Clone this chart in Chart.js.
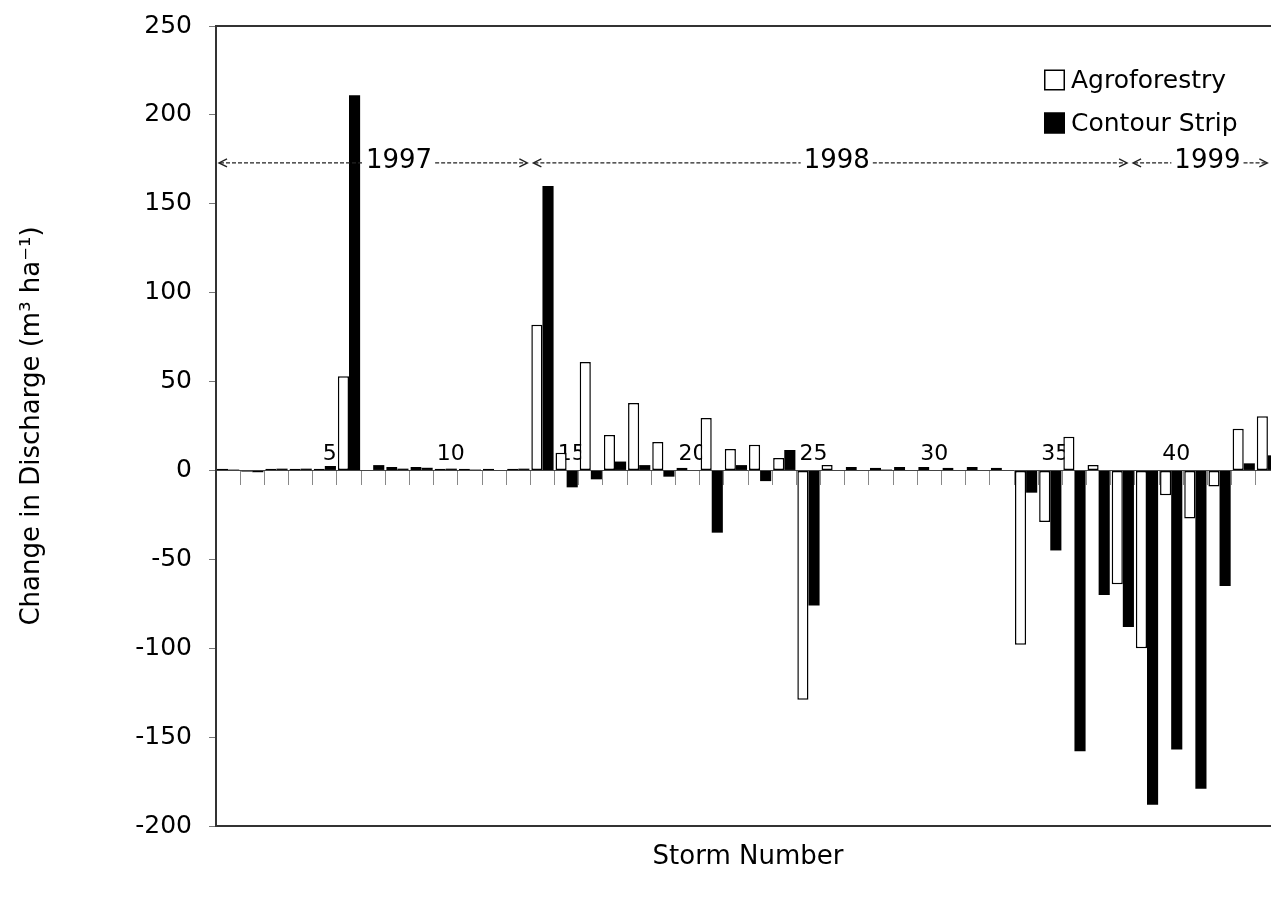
<!DOCTYPE html>
<html>
<head>
<meta charset="utf-8">
<title>Change in Discharge by Storm</title>
<script src="https://cdn.jsdelivr.net/npm/chart.js@4.4.0/dist/chart.umd.min.js"></script>
<style>
  html, body { margin: 0; padding: 0; background: #fff; overflow: hidden; }
  #wrap { width: 1300px; height: 900px; position: relative; }
</style>
</head>
<body>
<div id="wrap"><canvas id="chart" width="1300" height="900"></canvas></div>
<script>
// Storm numbers along the category axis
const storms = [1, 2, 3, 4, 5, 6, 7, 8, 9, 10, 11, 12, 13, 14, 15, 16, 17, 18, 19, 20, 21, 22,
                23, 24, 25, 26, 27, 28, 29, 30, 31, 32, 33, 34, 35, 36, 37, 38, 39, 40, 41, 42, 43, 44];

// Change in discharge (m3/ha) per storm
const agroforestry = [1, -0.8, 1, 1, 1, 53, 0, 2, 2, 1, 1, 1, 1, 82, 10, 61, 20, 38, 16, 1.5, 29.5, 12,
                      14.5, 7, -129, 3, 2, 1.5, 2, 2, 1.5, 2, 1.5, -98, -29, 19, 3, -64, -100, -14, -27, -9, 23.5, 30.5];
const contourStrip = [0.5, -1, 1, 1, 2.5, 211, 3, 1, 1.5, 1, 0.5, 0, 1, 160, -9.5, -5, 5, 3, -3.5, 0, -35, 3,
                      -6, 11.5, -76, 0, 0, 0.5, 0, 0, 0, 0, 0, -12.5, -45, -158, -70, -88, -188, -157, -179, -65, 4, 8.5];

// Value axis tick labels
const yTickValues = [-200, -150, -100, -50, 0, 50, 100, 150, 200, 250];

// Year spans along the storm axis (storm units; k = centre of storm k)
const years = ['1997', '1998', '1999'];
const yearStart = [0.5, 13.5, 38.3];
const yearEnd = [13.5, 38.3, 44.1];
const yearLabelAt = [8.07, 26.17, 41.5];

const FONT = 'DejaVu Sans';
Chart.defaults.font.family = FONT;
Chart.defaults.color = '#000';

function stormPixel(scale, u) {
  // fractional storm position -> pixel, through the category scale
  return scale.getPixelForValue(u - 1);
}

// Frame of the plot area (top and bottom edges)
const plotFrame = {
  id: 'plotFrame',
  beforeDatasetsDraw(chart) {
    const { ctx, chartArea: a } = chart;
    ctx.save();
    ctx.strokeStyle = '#333';
    ctx.lineWidth = 2;
    ctx.strokeRect(a.left, a.top, a.right - a.left, a.bottom - a.top);
    ctx.restore();
  }
};

// Dashed year spans with arrow heads
const yearSpans = {
  id: 'yearSpans',
  afterDatasetsDraw(chart) {
    const { ctx } = chart;
    const xs = chart.scales.x;
    const y = chart.scales.y.getPixelForValue(173);
    ctx.save();
    ctx.font = `26px "${FONT}"`;
    ctx.textBaseline = 'middle';
    ctx.textAlign = 'center';
    ctx.strokeStyle = '#222';
    ctx.fillStyle = '#000';
    years.forEach((label, i) => {
      const x0 = stormPixel(xs, yearStart[i]) + 3;
      const x1 = stormPixel(xs, yearEnd[i]) - 3;
      const xc = stormPixel(xs, yearLabelAt[i]);
      const half = ctx.measureText(label).width / 2 + 3;
      ctx.lineWidth = 1.2;
      ctx.setLineDash([4, 2]);
      ctx.beginPath();
      ctx.moveTo(x0 + 1, y); ctx.lineTo(xc - half, y);
      ctx.moveTo(xc + half, y); ctx.lineTo(x1 - 1, y);
      ctx.stroke();
      ctx.setLineDash([]);
      ctx.lineWidth = 1.4;
      ctx.beginPath();
      ctx.moveTo(x0 + 8, y - 4); ctx.lineTo(x0, y); ctx.lineTo(x0 + 8, y + 4);
      ctx.moveTo(x1 - 8, y - 4); ctx.lineTo(x1, y); ctx.lineTo(x1 - 8, y + 4);
      ctx.stroke();
      ctx.fillText(label, xc, y - 2);
    });
    ctx.restore();
  }
};

// Series key in the upper right of the plot
const seriesKey = {
  id: 'seriesKey',
  afterDatasetsDraw(chart) {
    const { ctx, chartArea: a } = chart;
    const x0 = a.right - 236;
    const rows = [a.top + 54, a.top + 97];
    ctx.save();
    ctx.font = `25px "${FONT}"`;
    ctx.textBaseline = 'middle';
    ctx.textAlign = 'left';
    chart.data.datasets.forEach((ds, i) => {
      const yc = rows[i];
      ctx.fillStyle = ds.backgroundColor;
      ctx.fillRect(x0, yc - 10.5, 21, 21);
      ctx.lineWidth = 1.5;
      ctx.strokeStyle = '#000';
      ctx.strokeRect(x0 + 0.75, yc - 9.75, 19.5, 19.5);
      ctx.fillStyle = '#000';
      ctx.fillText(ds.label, x0 + 27, yc + 1);
    });
    ctx.restore();
  }
};

new Chart(document.getElementById('chart'), {
  type: 'bar',
  data: {
    labels: storms.map(String),
    datasets: [
      {
        label: 'Agroforestry',
        data: agroforestry,
        backgroundColor: '#ffffff',
        borderColor: '#000000',
        borderWidth: 1.5,
        borderSkipped: false,
        categoryPercentage: 0.92,
        barPercentage: 1.0
      },
      {
        label: 'Contour Strip',
        data: contourStrip,
        backgroundColor: '#000000',
        borderColor: '#000000',
        borderWidth: 0,
        categoryPercentage: 0.92,
        barPercentage: 1.0
      }
    ]
  },
  options: {
    responsive: false,
    animation: false,
    devicePixelRatio: 1,
    layout: { padding: { left: 0, right: 20, top: 26, bottom: 22.8 } },
    plugins: {
      legend: { display: false },
      tooltip: { enabled: false }
    },
    scales: {
      x: {
        type: 'category',
        position: { y: 0 },
        offset: true,
        grid: { display: true, drawOnChartArea: false, drawTicks: true, tickLength: 14, color: '#888', lineWidth: 1, offset: true },
        border: { display: true, color: '#444', width: 1, dash: [5, 3] },
        ticks: {
          autoSkip: false,
          maxRotation: 0,
          minRotation: 0,
          padding: -43,
          labelOffset: 5,
          color: '#000',
          font: { family: FONT, size: 22 },
          callback(value) {
            const s = Number(this.getLabelForValue(value));
            return s % 5 === 0 ? String(s) : '';
          }
        },
        afterFit(scale) { scale.paddingTop = 0; scale.paddingBottom = 0; }
      },
      x2: {
        type: 'category',
        position: 'bottom',
        grid: { display: false, drawTicks: false },
        border: { display: false },
        ticks: { display: false },
        title: {
          display: true,
          text: 'Storm Number',
          color: '#000',
          font: { family: FONT, size: 26 },
          padding: { top: 16, bottom: 4 }
        }
      },
      y: {
        type: 'linear',
        position: 'left',
        min: -200,
        max: 250,
        afterBuildTicks(scale) { scale.ticks = yTickValues.map(v => ({ value: v })); },
        afterFit(scale) { scale.width = 216; scale.paddingTop = 0; scale.paddingBottom = 0; },
        grid: { display: true, drawOnChartArea: false, drawTicks: true, tickLength: 7, color: '#777' },
        border: { display: true, color: '#000', width: 2 },
        ticks: { padding: 17, color: '#000', font: { family: FONT, size: 25 } },
        title: {
          display: true,
          text: 'Change in Discharge (m³ ha⁻¹)',
          color: '#000',
          font: { family: FONT, size: 26 },
          padding: { top: 17, bottom: 0 }
        }
      }
    }
  },
  plugins: [plotFrame, yearSpans, seriesKey]
});
</script>
</body>
</html>
